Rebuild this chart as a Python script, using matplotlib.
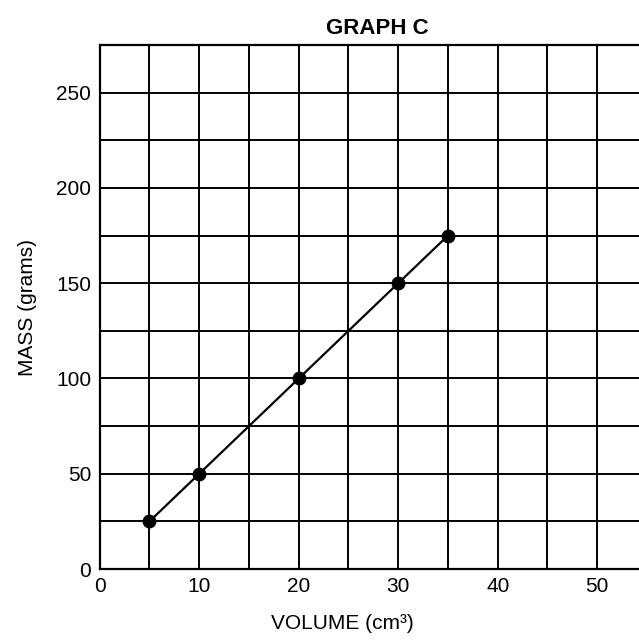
import matplotlib.pyplot as plt
from matplotlib.ticker import MultipleLocator

plt.rcParams['font.family'] = ['Liberation Sans', 'DejaVu Sans']

# data
volume = [5, 10, 20, 30, 35]
mass = [25, 50, 100, 150, 175]

fig = plt.figure(figsize=(6.39, 6.43), dpi=100)
ax = fig.add_axes([0.156, 0.115, 0.844, 0.815])

ax.plot(volume, mass, color="black", linewidth=1.6, marker="o",
        markersize=9, markerfacecolor="black", zorder=3, clip_on=False)

ax.set_xlim(0, 54.2)
ax.set_ylim(0, 275)
ax.xaxis.set_major_locator(MultipleLocator(10))
ax.xaxis.set_minor_locator(MultipleLocator(5))
ax.yaxis.set_major_locator(MultipleLocator(50))
ax.yaxis.set_minor_locator(MultipleLocator(25))
ax.grid(True, which="both", color="black", linewidth=1.4)
ax.set_axisbelow(True)
ax.tick_params(which="both", length=0, labelsize=15, pad=6)

for side in ["left", "bottom", "top"]:
    ax.spines[side].set_linewidth(1.6)
ax.spines["right"].set_visible(False)

ax.set_xlabel("VOLUME (cm³)", fontsize=15, labelpad=12)
ax.xaxis.set_label_coords(0.45, -0.085)
ax.set_ylabel("MASS (grams)", fontsize=15, labelpad=14)
ax.set_title("GRAPH C", fontsize=16, fontweight="bold", pad=8, x=0.515)

fig.savefig("out.png", dpi=100)
